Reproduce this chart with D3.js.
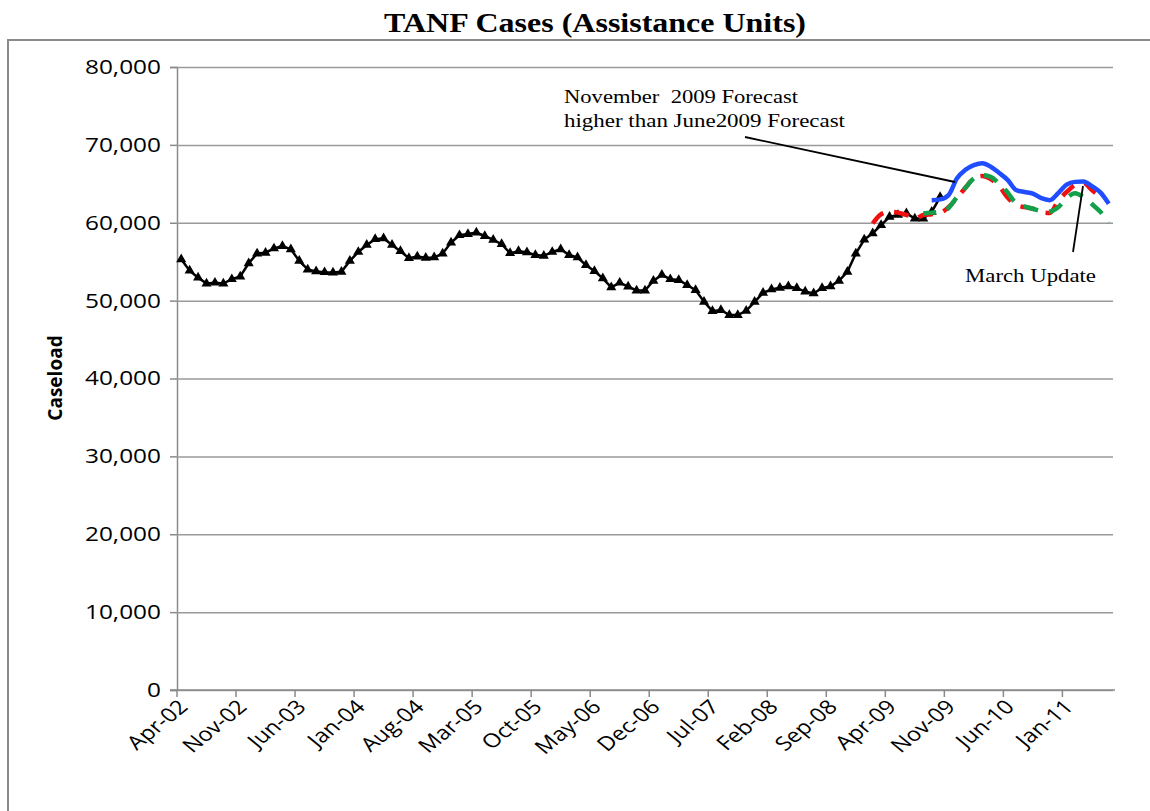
<!DOCTYPE html>
<html>
<head>
<meta charset="utf-8">
<script src="https://cdn.jsdelivr.net/npm/d3@7"></script>
<style>
  html, body { margin: 0; padding: 0; background: #fff; }
  svg { display: block; }
</style>
</head>
<body>
<svg id="chart" width="1150" height="811"></svg>
<script>
// ---------------- DATA ----------------
const title = "TANF Cases (Assistance Units)";
const yAxisTitle = "Caseload";
const firstMonth = new Date(2002, 3, 1);   // Apr-02
const lastMonth  = new Date(2011, 5, 1);   // Jun-11
const tickLabels = ["Apr-02","Nov-02","Jun-03","Jan-04","Aug-04","Mar-05","Oct-05","May-06",
                    "Dec-06","Jul-07","Feb-08","Sep-08","Apr-09","Nov-09","Jun-10","Jan-11"];
const yTicks = [0,10000,20000,30000,40000,50000,60000,70000,80000];

// Actual caseload, Apr-02 .. Oct-09
const actual = [55300,53850,52950,52200,52300,52200,52750,53100,54800,56050,
                56150,56700,57000,56600,55100,54000,53750,53650,53600,53700,
                55100,56250,57150,57900,58000,57150,56350,55450,55650,55500,
                55550,56050,57450,58400,58550,58750,58300,57800,57250,56100,
                56350,56200,55850,55750,56250,56600,55850,55550,54550,53800,
                52850,51700,52300,51800,51300,51300,52550,53300,52750,52650,
                52000,51350,49850,48650,48800,48150,48150,48700,49850,51000,
                51450,51650,51850,51600,51150,50950,51600,51850,52550,53700,
                56050,57850,58650,59700,60750,61000,61200,60550,60550,61400,
                63300];
// June 2009 forecast (red dashed), Feb-09 .. May-11
const juneStart = "Feb-09";
const juneForecast = [59900,61100,61400,61300,61000,60500,61000,61100,61250,62000,
                      63200,64500,65700,66000,65600,64700,63250,62300,62000,61800,
                      61350,61250,62800,63950,64850,65100,64200,63300];
// March update (green dashed), Aug-09 .. Jun-11
const marchStart = "Aug-09";
const marchUpdate = [61200,61300,61400,61900,63300,64500,65700,66100,65900,65000,
                     63900,62500,62100,61800,61500,61450,62000,63150,63800,63300,
                     62400,61400,60000];
// November 2009 forecast (blue solid), Sep-09 .. Jun-11
const novStart = "Sep-09";
const novForecast = [62900,63000,63550,65700,66800,67400,67650,67200,66400,65500,
                     64200,63950,63750,63150,62900,63800,64900,65250,65300,64700,
                     63900,62450];

// ---------------- CHART ----------------
const fmtMonth = d3.timeFormat("%b-%y");
const categories = d3.timeMonth.range(firstMonth, d3.timeMonth.offset(lastMonth, 1)).map(fmtMonth);

const svg = d3.select("#chart");
const SX = 1.22; // horizontal stretch of the text in the reference

const x = d3.scaleBand().domain(categories).range([177, 1113]).padding(0);
const cx = c => x(c) + x.bandwidth() / 2;
const y = d3.scaleLinear().domain([0, 80000]).range([690, 67]);

// frame
svg.append("rect").attr("x", 8).attr("y", 40).attr("width", 1160).attr("height", 800)
  .attr("fill", "none").attr("stroke", "#8a8a8a").attr("stroke-width", 2);

// title
svg.append("text").attr("x", 595).attr("y", 32).attr("text-anchor", "middle")
  .attr("font-family", "'Liberation Serif', 'Times New Roman', serif")
  .attr("font-weight", "bold").attr("font-size", 27)
  .attr("textLength", 422).attr("lengthAdjust", "spacingAndGlyphs")
  .text(title);

// y gridlines + axis
const yAxis = d3.axisLeft(y).tickValues(yTicks).tickFormat(d3.format(",")).tickSize(7).tickPadding(9);
const gy = svg.append("g").attr("transform", "translate(177,0)").call(yAxis);
gy.select(".domain").attr("stroke", "#8a8a8a").attr("stroke-width", 1.5);
gy.selectAll(".tick line").attr("stroke", "#8a8a8a").attr("stroke-width", 1.5);
gy.selectAll(".tick").append("line").attr("x1", 0).attr("x2", 1113 - 177)
  .attr("stroke", "#9a9a9a").attr("stroke-width", 1.5);
gy.selectAll(".tick text")
  .attr("font-family", "'Open Sans', sans-serif").attr("font-size", 20).attr("fill", "#000")
  .each(function() {
    const t = d3.select(this);
    const xx = +t.attr("x");
    t.attr("x", null).attr("transform", `translate(${xx},0) scale(${SX},1)`);
  });

// y axis title
svg.append("text")
  .attr("transform", `translate(62,378) rotate(-90)`)
  .attr("text-anchor", "middle")
  .attr("font-family", "'Open Sans', sans-serif").attr("font-weight", "bold").attr("font-size", 19)
  .text(yAxisTitle);

// x axis
const gx = svg.append("g");
gx.append("line").attr("x1", 170).attr("x2", 1115).attr("y1", y(0)).attr("y2", y(0))
  .attr("stroke", "#8a8a8a").attr("stroke-width", 1.5);
gx.selectAll("line.tk").data(tickLabels).join("line").attr("class", "tk")
  .attr("x1", d => x(d)).attr("x2", d => x(d)).attr("y1", y(0)).attr("y2", y(0) + 7)
  .attr("stroke", "#8a8a8a").attr("stroke-width", 1.5);
gx.selectAll("text").data(tickLabels).join("text")
  .attr("transform", d => `translate(${cx(d) + 8},${y(0) + 18}) scale(${SX},1) rotate(-45)`)
  .attr("text-anchor", "end")
  .attr("font-family", "'Open Sans', sans-serif").attr("font-size", 19.5).attr("fill", "#000")
  .text(d => d);

// series helper
function seriesPoints(start, vals) {
  const i0 = categories.indexOf(start);
  return vals.map((v, i) => ({ c: categories[i0 + i], v }));
}
const line = d3.line().x(d => cx(d.c)).y(d => y(d.v)).curve(d3.curveMonotoneX);
const straight = d3.line().x(d => cx(d.c)).y(d => y(d.v));

// actual
const actualPts = seriesPoints(categories[0], actual);
svg.append("path").datum(actualPts).attr("d", straight)
  .attr("fill", "none").attr("stroke", "#000").attr("stroke-width", 2.5);
svg.append("g").selectAll("path").data(actualPts).join("path")
  .attr("transform", d => `translate(${cx(d.c)},${y(d.v)})`)
  .attr("d", d3.symbol(d3.symbolTriangle, 44))
  .attr("fill", "#000");

// forecasts
svg.append("path").datum(seriesPoints(juneStart, juneForecast)).attr("d", line)
  .attr("fill", "none").attr("stroke", "#f01010").attr("stroke-width", 4.5)
  .attr("stroke-dasharray", "15,11");
svg.append("path").datum(seriesPoints(marchStart, marchUpdate)).attr("d", line)
  .attr("fill", "none").attr("stroke", "#13a04a").attr("stroke-width", 4.5)
  .attr("stroke-dasharray", "15,11").attr("stroke-dashoffset", 2);
svg.append("path").datum(seriesPoints(novStart, novForecast)).attr("d", line)
  .attr("fill", "none").attr("stroke", "#1f4dff").attr("stroke-width", 4.5);

// annotations
const serif = "'Liberation Serif', 'Times New Roman', serif";
svg.append("text").attr("x", 564).attr("y", 103).attr("font-family", serif).attr("font-size", 19)
  .attr("textLength", 234).attr("lengthAdjust", "spacingAndGlyphs")
  .style("white-space", "pre").text("November  2009 Forecast");
svg.append("text").attr("x", 564).attr("y", 127).attr("font-family", serif).attr("font-size", 19)
  .attr("textLength", 281).attr("lengthAdjust", "spacingAndGlyphs")
  .text("higher than June2009 Forecast");
svg.append("line").attr("x1", 745).attr("y1", 137).attr("x2", 955).attr("y2", 182)
  .attr("stroke", "#000").attr("stroke-width", 1.8);
svg.append("text").attr("x", 965).attr("y", 282).attr("font-family", serif).attr("font-size", 18)
  .attr("textLength", 131).attr("lengthAdjust", "spacingAndGlyphs")
  .text("March Update");
svg.append("line").attr("x1", 1073).attr("y1", 252).attr("x2", 1083).attr("y2", 186)
  .attr("stroke", "#000").attr("stroke-width", 1.8);
</script>
</body>
</html>
